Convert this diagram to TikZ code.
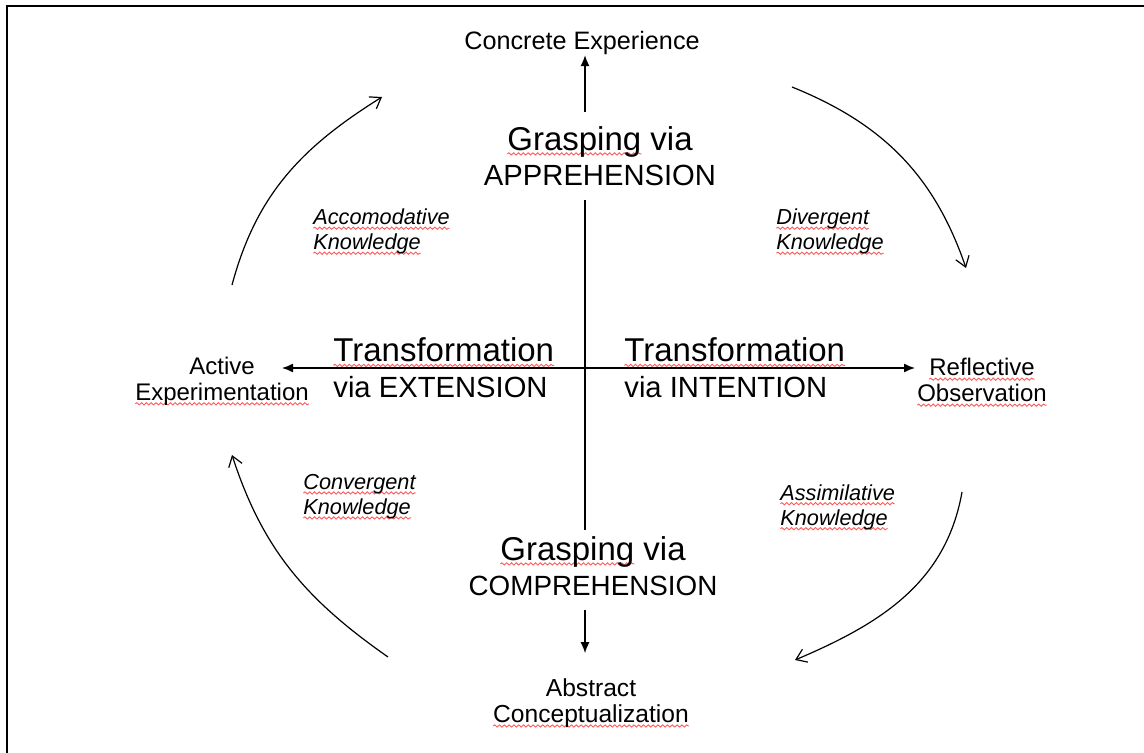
\documentclass[tikz,border=0pt]{standalone}
\usepackage{fontspec}
\setmainfont{Liberation Sans}
\usepackage{xcolor}
\usetikzlibrary{positioning, arrows.meta, decorations.pathmorphing}

% red wavy underline under a word
\newsavebox{\spellbox}
\newcommand{\spell}[1]{\sbox{\spellbox}{#1}%
  \tikz[overlay, baseline=0pt]\draw [red!65, line width=0.45pt, decorate,
    decoration={snake, amplitude=0.55pt, segment length=2.4pt}]
    (0pt,-1.8pt) -- (\wd\spellbox,-1.8pt);%
  \usebox{\spellbox}}

\begin{document}
\begin{tikzpicture}[x=0.5pt, y=0.5pt, >={Latex[length=5.5pt, width=4.5pt]},
    lbl/.style={inner sep=0pt, align=center, font=\fontsize{12}{13}\selectfont},
    know/.style={inner sep=0pt, anchor=west, align=left, font=\fontsize{10.85}{12.5}\selectfont\itshape},
    big/.style={inner xsep=0pt, inner ysep=7pt, align=center, font=\fontsize{16.5}{17.5}\selectfont},
    trans/.style={inner sep=0pt, anchor=west, align=left, font=\fontsize{16.5}{18}\selectfont},
    straight/.style={line width=0.65pt},
    curved/.style={line width=0.6pt, -{Straight Barb[length=5pt, width=7pt]}}]
    \useasboundingbox (0,0) rectangle (1144,-753);
    \draw [line width=1.2pt] (7,-753) -- (7,-6) -- (1144,-6);

    % the four poles
    \node [lbl, font=\fontsize{12.6}{13}\selectfont] (concrete) at (582,-43) {Concrete Experience};
    \node [lbl, font=\fontsize{12.3}{13}\selectfont] (abstract) at (591,-703) {Abstract\\\spell{Conceptualization}};
    \node [lbl] (active) at (222,-381) {Active\\\spell{Experimentation}};
    \node [lbl] (reflect) at (982,-380) {\spell{Reflective}\\\spell{Observation}};

    % grasping and transformation
    \node [big] (apprehension) at (600,-156) {\spell{Grasping} via\\\fontsize{14.6}{17.5}\selectfont APPREHENSION};
    \node [big] (comprehension) at (593,-566) {\spell{Grasping} via\\\fontsize{13.9}{17.5}\selectfont COMPREHENSION};
    \node [trans] (extension) at (333,-368) {\spell{Transformation}\\\fontsize{14.6}{18}\selectfont via EXTENSION};
    \node [trans] (intention) at (624,-368) {\spell{Transformation}\\\fontsize{14.6}{18}\selectfont via INTENTION};

    % knowledge types
    \node [know] (accom) at (313,-231.5) {\spell{Accomodative}\\\spell{Knowledge}};
    \node [know] (diverg) at (776,-231.5) {\spell{Divergent}\\\spell{Knowledge}};
    \node [know] (converg) at (303,-496.5) {\spell{Convergent}\\\spell{Knowledge}};
    \node [know] (assim) at (780,-507) {\spell{Assimilative}\\\spell{Knowledge}};

    % axes
    \coordinate (o) at (585,-368);
    \coordinate (wtip) at (282,-368);
    \coordinate (etip) at (915,-368);
    \draw [straight, ->] (apprehension.north -| o) -- (concrete.south -| o);
    \draw [straight] (apprehension.south -| o) -- ([yshift=-4pt]comprehension.north -| o);
    \draw [straight, ->, shorten >=12.5pt] (comprehension.south -| o) -- (abstract.north -| o);
    \draw [straight, <->] (wtip) -- (etip);

    % learning cycle
    \coordinate (tl0) at (232,-285);
    \coordinate (tl1) at (382,-97);
    \coordinate (tr0) at (792,-87);
    \coordinate (tr1) at (966,-268);
    \coordinate (br0) at (962,-492);
    \coordinate (br1) at (795,-660);
    \coordinate (bl0) at (388,-657);
    \coordinate (bl1) at (232,-455);
    \draw [curved] (tl0) to[out=75, in=212] (tl1);
    \draw [curved] (tr0) to[out=-22, in=109] (tr1);
    \draw [curved] (br0) to[out=-100, in=23] (br1);
    \draw [curved] (bl0) to[out=145, in=-72] (bl1);
\end{tikzpicture}
\end{document}
